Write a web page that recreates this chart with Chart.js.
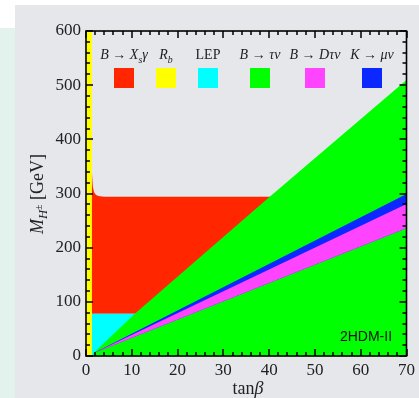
<!DOCTYPE html>
<html lang="en">
<head>
<meta charset="UTF-8">
<title>2HDM-II constraints</title>
<script src="https://cdn.jsdelivr.net/npm/chart.js@4/dist/chart.umd.min.js"></script>
<style>
  html, body { margin: 0; padding: 0; background: #fff; }
  #wrap { width: 419px; height: 398px; position: relative; }
</style>
</head>
<body>
<div id="wrap"><canvas id="c"></canvas></div>
<script>
// axis ranges / ticks
const xRange = [0, 70];
const yRange = [0, 600];
const xStep = 10, xMinor = 2;
const yStep = 100, yMinor = 20;

// R_b (yellow)
const rbX = [0, 1.3, 1.3, 0];
const rbY = [0, 0, 600, 600];
// B -> Xs gamma (red)
const bsgX = [1.3, 1.3, 1.5, 1.75, 2.0, 2.4, 3.0, 4.0, 41, 41];
const bsgY = [78, 338, 312, 303, 299, 296.5, 295, 294, 294, 78];
// LEP (cyan)
const lepX = [1.3, 1.3, 12, 12];
const lepY = [0, 78, 78, 0];
// B -> tau nu (green)
const btnX = [1.6, 1.6, 10.6, 40, 70, 70];
const btnY = [0, 5, 77.5, 293, 509.5, 0];
// K -> mu nu (blue)
const kmnX = [1.6, 70, 70];
const kmnY = [5, 299, 236];
// B -> D tau nu (magenta)
const bdtX = [1.6, 70, 70];
const bdtY = [5, 280.5, 236];

// legend entries (rich text pieces: t = text, i = italic, s = subscript)
const legendText = [
  [{t:'B', i:1}, {t:' \u2192 '}, {t:'X', i:1}, {t:'s', i:1, s:1}, {t:'\u03B3', i:1}],
  [{t:'R', i:1}, {t:'b', i:1, s:1}],
  [{t:'LEP'}],
  [{t:'B', i:1}, {t:' \u2192 '}, {t:'\u03C4\u03BD', i:1}],
  [{t:'B', i:1}, {t:' \u2192 '}, {t:'D\u03C4\u03BD', i:1}],
  [{t:'K', i:1}, {t:' \u2192 '}, {t:'\u03BC\u03BD', i:1}]
];
const legendColors = ['#ff2600', '#ffff00', '#00ffff', '#00ff00', '#ff44ff', '#0a28ff'];
const legendCenters = [124, 166, 208, 260, 315, 372];

const SERIF = '"Liberation Serif", "DejaVu Serif", serif';

function pts(xs, ys) { return xs.map((x, k) => ({x: x, y: ys[k]})); }

function region(label, xs, ys, color, order) {
  return {
    label: label, data: pts(xs, ys), order: order,
    backgroundColor: color, borderColor: 'transparent', borderWidth: 0,
    pointRadius: 0, fill: 'shape', tension: 0
  };
}

function richWidth(ctx, parts, size) {
  let w = 0;
  parts.forEach(p => {
    const fs = p.s ? size * 0.7 : size;
    ctx.font = (p.i ? 'italic ' : '') + fs + 'px ' + SERIF;
    w += ctx.measureText(p.t).width;
  });
  return w;
}
function drawRich(ctx, parts, x, y, size) {
  ctx.textAlign = 'left';
  ctx.textBaseline = 'alphabetic';
  parts.forEach(p => {
    const fs = p.s ? size * 0.7 : size;
    ctx.font = (p.i ? 'italic ' : '') + fs + 'px ' + SERIF;
    ctx.fillText(p.t, x, p.s ? y + size * 0.25 : y);
    x += ctx.measureText(p.t).width;
  });
}

const decor = {
  id: 'decor',
  beforeDraw(chart) {
    const ctx = chart.ctx;
    ctx.save();
    ctx.fillStyle = '#ffffff';
    ctx.fillRect(0, 0, chart.width, chart.height);
    ctx.fillStyle = '#e3f2ec';
    ctx.fillRect(0, 28, 15, chart.height - 28);
    ctx.fillStyle = '#e5e7eb';
    ctx.fillRect(15, 5, chart.width - 15, chart.height - 5);
    ctx.restore();
  },
  afterDraw(chart) {
    const ctx = chart.ctx, a = chart.chartArea;
    const xs = chart.scales.x, ys = chart.scales.y;
    ctx.save();
    // tick marks, inward on all four sides
    ctx.strokeStyle = '#000';
    ctx.lineWidth = 1.5;
    for (let v = xRange[0]; v <= xRange[1]; v += xMinor) {
      const px = Math.round(xs.getPixelForValue(v));
      const len = v % xStep === 0 ? 7 : 4;
      ctx.beginPath();
      ctx.moveTo(px, a.bottom); ctx.lineTo(px, a.bottom - len);
      ctx.moveTo(px, a.top); ctx.lineTo(px, a.top + len);
      ctx.stroke();
    }
    for (let v = yRange[0]; v <= yRange[1]; v += yMinor) {
      const py = Math.round(ys.getPixelForValue(v));
      const len = v % yStep === 0 ? 7 : 4;
      ctx.beginPath();
      ctx.moveTo(a.left, py); ctx.lineTo(a.left + len, py);
      ctx.moveTo(a.right, py); ctx.lineTo(a.right - len, py);
      ctx.stroke();
    }
    // frame
    ctx.lineWidth = 1.6;
    ctx.strokeRect(a.left, a.top, a.right - a.left, a.bottom - a.top);

    // legend inside plot
    legendText.forEach((parts, k) => {
      const w = richWidth(ctx, parts, 14);
      ctx.fillStyle = '#222';
      drawRich(ctx, parts, legendCenters[k] - w / 2, 59, 14);
      ctx.fillStyle = legendColors[k];
      ctx.fillRect(legendCenters[k] - 10, 68, 20, 20);
    });

    // model label
    ctx.fillStyle = '#111';
    ctx.font = '14px "Liberation Sans", Arial, sans-serif';
    ctx.textAlign = 'center';
    ctx.textBaseline = 'middle';
    ctx.fillText('2HDM-II', 366, 337);

    // x title
    ctx.fillStyle = '#222';
    const xt = [{t:'tan'}, {t:'\u03B2', i:1}];
    const xw = richWidth(ctx, xt, 18);
    drawRich(ctx, xt, 248 - xw / 2, 394, 18);

    // y title (rotated)
    ctx.translate(43, 194);
    ctx.rotate(-Math.PI / 2);
    const size = 18;
    let w = 0;
    ctx.font = 'italic ' + size + 'px ' + SERIF; w += ctx.measureText('M').width;
    ctx.font = 'italic ' + (size * 0.7) + 'px ' + SERIF; w += ctx.measureText('H').width;
    ctx.font = (size * 0.55) + 'px ' + SERIF; w += ctx.measureText('\u00B1').width;
    ctx.font = size + 'px ' + SERIF; w += ctx.measureText(' [GeV]').width;
    let x = -w / 2;
    ctx.textAlign = 'left';
    ctx.textBaseline = 'alphabetic';
    ctx.font = 'italic ' + size + 'px ' + SERIF; ctx.fillText('M', x, 0); x += ctx.measureText('M').width;
    ctx.font = 'italic ' + (size * 0.7) + 'px ' + SERIF; ctx.fillText('H', x, 4); x += ctx.measureText('H').width;
    ctx.font = (size * 0.55) + 'px ' + SERIF; ctx.fillText('\u00B1', x, -1); x += ctx.measureText('\u00B1').width;
    ctx.font = size + 'px ' + SERIF; ctx.fillText(' [GeV]', x, 0);
    ctx.restore();
  }
};

new Chart(document.getElementById('c'), {
  type: 'line',
  data: {
    datasets: [
      region('K \u2192 \u03BC\u03BD', kmnX, kmnY, legendColors[5], 1),
      region('B \u2192 D\u03C4\u03BD', bdtX, bdtY, legendColors[4], 0),
      region('B \u2192 \u03C4\u03BD', btnX, btnY, legendColors[3], 2),
      region('LEP', lepX, lepY, legendColors[2], 3),
      region('R_b', rbX, rbY, legendColors[1], 5),
      region('B \u2192 X_s\u03B3', bsgX, bsgY, legendColors[0], 4)
    ]
  },
  options: {
    responsive: true,
    maintainAspectRatio: false,
    animation: false,
    layout: { padding: { top: 31, right: 9, left: 0, bottom: 0 } },
    plugins: { legend: { display: false }, tooltip: { enabled: false } },
    scales: {
      x: {
        type: 'linear', min: xRange[0], max: xRange[1],
        grid: { display: false, drawTicks: false },
        border: { display: false },
        ticks: { stepSize: xStep, padding: 4, color: '#222', font: { family: SERIF, size: 17 } },
        afterFit(s) { s.height = 42; }
      },
      y: {
        type: 'linear', min: yRange[0], max: yRange[1],
        grid: { display: false, drawTicks: false },
        border: { display: false },
        ticks: { stepSize: yStep, padding: 5, color: '#222', font: { family: SERIF, size: 17 } },
        afterFit(s) { s.width = 86; }
      }
    }
  },
  plugins: [decor]
});
</script>
</body>
</html>
